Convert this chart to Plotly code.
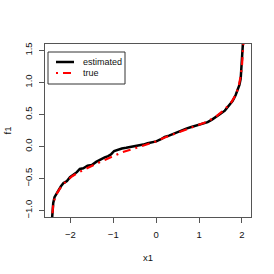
import plotly.graph_objects as go

# ---- data ----
est_x = [-2.43, -2.41, -2.40, -2.37, -2.33, -2.28, -2.22, -2.16, -2.08, -2.01, -1.93, -1.85,
         -1.78, -1.70, -1.60, -1.50, -1.40, -1.30, -1.20, -1.12, -1.05, -0.98, -0.90, -0.80,
         -0.70, -0.60, -0.50, -0.40, -0.30, -0.20, -0.10, 0.00, 0.10, 0.20, 0.30, 0.40, 0.50,
         0.60, 0.70, 0.80, 0.90, 1.00, 1.10, 1.20, 1.30, 1.40, 1.50, 1.60, 1.70, 1.78, 1.85,
         1.90, 1.94, 1.97, 1.99, 2.01, 2.02, 2.03]
est_y = [-1.15, -0.95, -0.88, -0.79, -0.74, -0.69, -0.62, -0.57, -0.54, -0.48, -0.44, -0.40,
         -0.35, -0.34, -0.30, -0.29, -0.24, -0.20, -0.17, -0.15, -0.12, -0.07, -0.05, -0.03,
         -0.02, -0.01, 0.00, 0.02, 0.03, 0.05, 0.06, 0.08, 0.11, 0.15, 0.17, 0.20, 0.23,
         0.25, 0.28, 0.30, 0.32, 0.34, 0.36, 0.38, 0.42, 0.46, 0.51, 0.56, 0.64, 0.71, 0.80,
         0.88, 0.96, 1.06, 1.24, 1.36, 1.50, 1.70]

true_x = [-2.43, -2.40, -2.35, -2.25, -2.10, -1.95, -1.80, -1.60, -1.40, -1.20, -1.00, -0.80,
          -0.60, -0.40, -0.20, 0.00, 0.20, 0.40, 0.60, 0.80, 1.00, 1.20, 1.40, 1.60, 1.75,
          1.85, 1.92, 1.97, 2.00, 2.02, 2.04]
true_y = [-1.15, -0.90, -0.77, -0.66, -0.54, -0.46, -0.40, -0.33, -0.27, -0.21, -0.15, -0.09,
          -0.05, -0.01, 0.03, 0.08, 0.14, 0.19, 0.24, 0.28, 0.33, 0.39, 0.47, 0.58, 0.69,
          0.80, 0.93, 1.10, 1.27, 1.45, 1.70]

x_ticks = [-2, -1, 0, 1, 2]
x_ticklabels = ["\u22122", "\u22121", "0", "1", "2"]
y_ticks = [-1.0, -0.5, 0.0, 0.5, 1.0, 1.5]
y_ticklabels = ["\u22121.0", "\u22120.5", "0.0", "0.5", "1.0", "1.5"]
legend_labels = ["estimated", "true"]

# ---- layout geometry (pixels) ----
W = H = 274
L, R, T, B = 45, 251, 44, 217
FONT = "Liberation Sans, Arial, Helvetica, sans-serif"
AX = "#555555"
TXT = "#111111"
RED_DASH = "2px,5px,8px,5px"

def px(xp):
    return (xp - L) / (R - L)

def py(yp):
    return (B - yp) / (B - T)

fig = go.Figure()
fig.add_trace(go.Scatter(x=est_x, y=est_y, mode="lines",
                         line=dict(color="black", width=2.5), showlegend=False))
fig.add_trace(go.Scatter(x=true_x, y=true_y, mode="lines",
                         line=dict(color="#ff0000", width=2.2, dash=RED_DASH), showlegend=False))

axis_common = dict(showgrid=False, zeroline=False, showline=True, mirror=True,
                   linecolor=AX, linewidth=1, ticks="outside", ticklen=5,
                   tickcolor=AX, tickwidth=1, automargin=False,
                   tickfont=dict(family=FONT, size=9.5, color=TXT))

fig.update_layout(
    width=W, height=H,
    margin=dict(l=L, r=W - R, t=T, b=H - B, pad=0),
    paper_bgcolor="white", plot_bgcolor="white",
    xaxis=dict(range=[-2.592, 2.21], tickvals=x_ticks, ticktext=x_ticklabels,
               ticklabelstandoff=4, **axis_common),
    yaxis=dict(range=[-1.1, 1.6], tickvals=y_ticks, ticktext=y_ticklabels,
               tickangle=-90, ticklabelstandoff=3, **axis_common),
    showlegend=False,
)

# axis titles
fig.add_annotation(text="x1", x=0.5, y=0, xref="paper", yref="paper",
                   xanchor="center", yanchor="middle", yshift=-(257 - B), showarrow=False,
                   font=dict(family=FONT, size=9.5, color=TXT))
fig.add_annotation(text="f1", x=0, y=0.5, xref="paper", yref="paper",
                   xanchor="center", yanchor="middle", xshift=-(L - 7), textangle=-90,
                   showarrow=False, font=dict(family=FONT, size=9.5, color=TXT))

# manual legend (R style)
fig.add_shape(type="rect", xref="paper", yref="paper",
              x0=px(48), x1=px(125), y0=py(52), y1=py(84),
              line=dict(color="#333333", width=1), fillcolor="white")
legend_styles = [dict(color="black", width=2.5), dict(color="#ff0000", width=2.2, dash=RED_DASH)]
legend_rows = [62, 73]
for lab, sty, yr in zip(legend_labels, legend_styles, legend_rows):
    fig.add_shape(type="line", xref="paper", yref="paper",
                  x0=px(56), x1=px(74), y0=py(yr), y1=py(yr), line=sty)
    fig.add_annotation(text=lab, x=px(81), y=py(yr), xref="paper", yref="paper",
                       xanchor="left", yanchor="middle", showarrow=False,
                       font=dict(family=FONT, size=9, color=TXT))

fig.write_html("out.html", config={"displayModeBar": False},
               post_script="document.body.style.margin='0';")
